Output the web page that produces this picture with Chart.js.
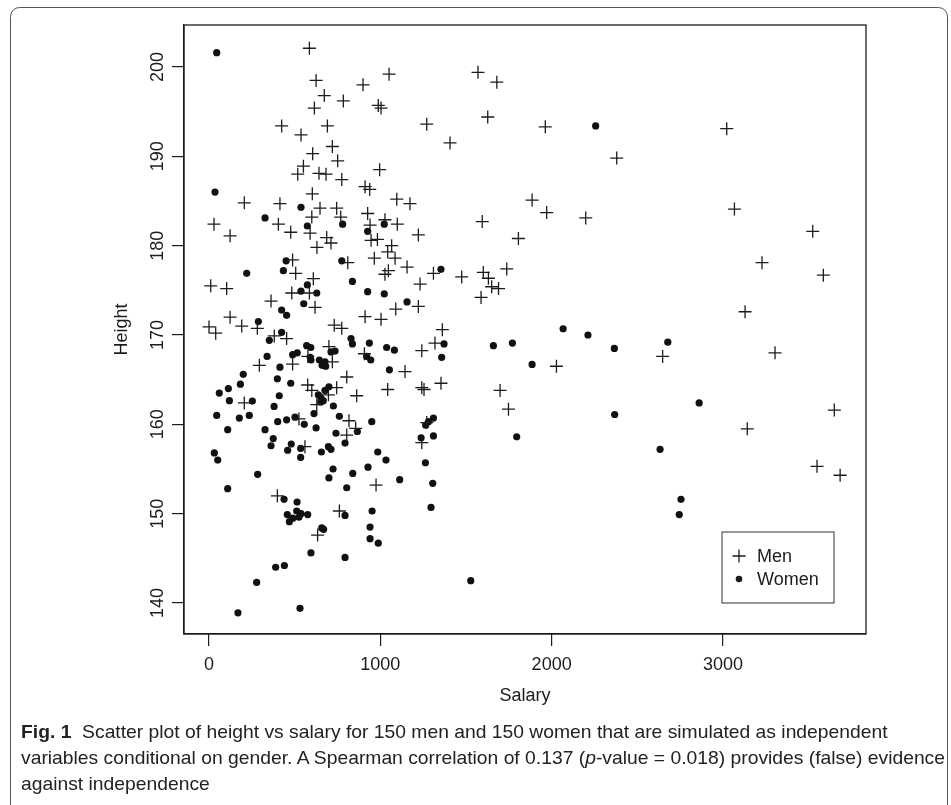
<!DOCTYPE html>
<html>
<head>
<meta charset="utf-8">
<script src="https://cdn.jsdelivr.net/npm/chart.js@4.4.1/dist/chart.umd.min.js"></script>
<style>
  html, body { margin: 0; padding: 0; background: #fff; }
  #wrap { position: relative; width: 951px; height: 805px; overflow: hidden; }
  #chart { position: absolute; left: 0; top: 0; }
  #caption {
    position: absolute; left: 21px; top: 719px;
    font-family: "Liberation Sans", Arial, sans-serif; font-size: 19px;
    line-height: 26px; color: #222; white-space: nowrap;
    transform-origin: left top;
  }
  #caption span { display: inline-block; }
</style>
</head>
<body>
<div id="wrap">
  <canvas id="chart" width="951" height="805"></canvas>
  <div id="caption">
    <div><span id="line1"><b>Fig. 1</b>&nbsp; Scatter plot of height vs salary for 150 men and 150 women that are simulated as independent</span></div>
    <div><span id="line2">variables conditional on gender. A Spearman correlation of 0.137 (<i>p</i>-value = 0.018) provides (false) evidence</span></div>
    <div><span id="line3">against independence</span></div>
  </div>
</div>
<script>
const xTicks = [0, 1000, 2000, 3000];
const yTicks = [140, 150, 160, 170, 180, 190, 200];

const menSalary = [586, 625, 673, 784, 615, 424, 691, 537, 720, 605, 751, 551, 518, 642, 683, 775, 603, 206, 414, 648, 745,
  1051, 899, 1570, 1680, 988, 1004, 1627, 1271, 1407, 996, 911, 938, 1096, 1173,
  1963, 3022, 2380, 1886, 1971, 2199, 3067, 1806, 3524, 3228, 3586, 1738, 1650, 1690,
  3129, 3304, 3650, 3142, 3549, 3684, 2648, 2028, 1699, 1748,
  1271, 1242, 975, 817, 856, 804, 525, 560, 399, 761, 634,
  29, 123, 405, 477, 600, 590, 769, 687, 712, 630, 488, 506, 609, 10, 103, 483, 586, 619, 362, 123, 191, 282, 0, 39,
  381, 453, 731, 775, 294, 488, 577, 700, 720, 576, 600, 745, 697, 206, 629,
  926, 1027, 940, 1099, 946, 983, 1222, 1595, 1066, 1043, 1086, 965, 810, 1156, 1047, 1027, 1310, 1475, 1601, 1631,
  1588, 1232, 1222, 1090, 911, 1004, 1362, 1319, 907, 1242, 1144, 804, 862, 1043, 1242, 1255, 1354];
const menHeight = [202.1, 198.5, 196.8, 196.2, 195.4, 193.4, 193.4, 192.4, 191.1, 190.3, 189.5, 188.9, 188.0, 188.1, 188.0, 187.4, 185.8, 184.8, 184.7, 184.2, 184.2,
  199.2, 198.0, 199.4, 198.3, 195.7, 195.4, 194.4, 193.6, 191.5, 188.5, 186.6, 186.3, 185.2, 184.7,
  193.3, 193.1, 189.8, 185.1, 183.7, 183.1, 184.1, 180.8, 181.6, 178.1, 176.7, 177.4, 175.4, 175.2,
  172.6, 168.0, 161.6, 159.5, 155.3, 154.3, 167.6, 166.5, 163.8, 161.7,
  160.2, 157.95, 153.2, 160.4, 159.55, 158.8, 160.6, 157.5, 152.0, 150.3, 147.6,
  182.4, 181.1, 182.4, 181.5, 183.2, 181.4, 183.2, 180.9, 180.3, 179.8, 178.4, 176.9, 176.3, 175.5, 175.2, 174.7, 174.7, 173.1, 173.8, 172.0, 171.0, 170.75, 170.9, 170.2,
  169.9, 169.6, 171.1, 170.75, 166.6, 166.75, 167.6, 168.7, 167.0, 164.4, 163.8, 164.1, 163.3, 162.4, 162.2,
  183.6, 182.9, 182.3, 182.4, 180.6, 180.7, 181.2, 182.7, 180.0, 179.3, 178.6, 178.6, 178.1, 177.6, 177.2, 176.8, 176.9, 176.5, 177.0, 176.35,
  174.2, 175.7, 173.2, 172.9, 172.05, 171.75, 170.6, 169.1, 167.9, 168.25, 165.9, 165.3, 163.2, 163.9, 164.1, 163.9, 164.6];

const womenSalary = [45, 35, 537, 2257, 1660, 1771, 2067, 2212, 2366, 2678, 1886, 2368, 2861, 1796, 2633, 2755, 2745, 1528,
  950, 866, 1310, 1281, 1265, 1238, 1310, 985, 1033, 1263, 928, 839, 1113, 1306, 804, 952, 1296, 794, 940, 940, 988, 794,
  45, 177, 235, 109, 327, 401, 453, 502, 556, 613, 625, 761, 741, 794, 375, 362, 480, 459, 535, 535, 656, 697, 712, 31, 51,
  724, 700, 284, 109, 438, 514, 457, 512, 537, 576, 525, 489, 469, 658, 669, 595, 389, 440, 278, 169, 531,
  327, 574, 780, 450, 775, 434, 220, 574, 537, 629, 553, 424, 453, 288, 424, 352, 339, 414, 488, 515, 570, 594, 591, 595,
  712, 736, 644, 677, 660, 681, 200, 399, 477, 183, 113, 60, 677, 700, 638, 654, 667, 652, 119, 253, 410, 380, 726,
  1023, 926, 1354, 837, 926, 1023, 1156, 1372, 829, 837, 936, 920, 944, 1037, 1082, 1358, 1053];
const womenHeight = [201.6, 186.0, 184.3, 193.4, 168.8, 169.1, 170.7, 170.0, 168.5, 169.2, 166.7, 161.1, 162.4, 158.6, 157.2, 151.6, 149.9, 142.5,
  160.3, 159.2, 160.7, 160.3, 159.9, 158.5, 158.7, 156.9, 156.0, 155.7, 155.2, 154.5, 153.8, 153.4, 152.9, 150.3, 150.7, 149.8, 148.5, 147.2, 146.7, 145.1,
  161.0, 160.7, 161.0, 159.4, 159.4, 160.3, 160.5, 160.8, 160.0, 161.2, 159.6, 160.9, 159.0, 157.9, 158.4, 157.6, 157.8, 157.1, 157.3, 156.3, 156.9, 157.5, 157.2, 156.8, 156.0,
  155.0, 154.0, 154.4, 152.8, 151.6, 151.3, 149.9, 150.3, 150.0, 149.9, 149.6, 149.5, 149.1, 148.4, 148.25, 145.6, 144.0, 144.2, 142.3, 138.9, 139.4,
  183.1, 182.2, 182.4, 178.3, 178.3, 177.2, 176.9, 175.6, 174.9, 174.7, 173.5, 172.8, 172.2, 171.5, 170.3, 169.4, 167.6, 166.4, 167.8, 168.0, 168.8, 168.6, 167.5, 167.2,
  168.1, 168.2, 167.2, 167.0, 166.6, 166.5, 165.6, 165.1, 164.6, 164.5, 164.0, 163.5, 163.8, 164.2, 163.3, 162.9, 162.65, 162.5, 162.65, 162.6, 163.2, 162.0, 162.05,
  182.4, 181.6, 177.35, 176.0, 174.85, 174.6, 173.7, 169.0, 169.6, 169.0, 169.1, 167.6, 167.2, 168.6, 168.3, 167.5, 166.1];

const toPoints = (xs, ys) => xs.map((x, i) => ({x: x, y: ys[i]}));
const ink = "#1c1c1c";
const tickFont = {family: "'Liberation Sans', Arial, sans-serif", size: 18};

// R style box, rotated y labels, legend and the figure frame
const rStyle = {
  id: "rStyle",
  afterDraw(chart) {
    const {ctx, chartArea: a, scales: {y}} = chart;
    ctx.save();
    ctx.strokeStyle = ink;
    ctx.lineWidth = 1.3;
    ctx.strokeRect(a.left, a.top, a.right - a.left, a.bottom - a.top);

    ctx.fillStyle = ink;
    ctx.font = "18px 'Liberation Sans', Arial, sans-serif";
    ctx.textAlign = "center";
    ctx.textBaseline = "middle";
    yTicks.forEach(v => {
      ctx.save();
      ctx.translate(a.left - 26, y.getPixelForValue(v));
      ctx.rotate(-Math.PI / 2);
      ctx.fillText(String(v), 0, 0);
      ctx.restore();
    });

    // legend
    const lx = a.right - 144, ly = a.bottom - 102;
    ctx.lineWidth = 1;
    ctx.strokeStyle = "#333";
    ctx.strokeRect(lx, ly, 112, 71);
    ctx.textAlign = "left";
    chart.data.datasets.forEach((ds, i) => {
      const cy = ly + 24 + i * 23, cx = lx + 17;
      if (ds.pointStyle === "cross") {
        ctx.strokeStyle = ink;
        ctx.lineWidth = 1.3;
        ctx.beginPath();
        ctx.moveTo(cx - 6.5, cy); ctx.lineTo(cx + 6.5, cy);
        ctx.moveTo(cx, cy - 6.5); ctx.lineTo(cx, cy + 6.5);
        ctx.stroke();
      } else {
        ctx.beginPath();
        ctx.arc(cx, cy, 3.3, 0, Math.PI * 2);
        ctx.fill();
      }
      ctx.fillText(ds.label, lx + 35, cy + 1);
    });

    // rounded figure frame
    ctx.strokeStyle = "#555";
    ctx.lineWidth = 1;
    ctx.beginPath();
    ctx.roundRect(10.5, 7.5, 937, 830, 9);
    ctx.stroke();
    ctx.restore();
  }
};

new Chart(document.getElementById("chart"), {
  type: "scatter",
  data: {
    datasets: [{
      label: "Men",
      data: toPoints(menSalary, menHeight),
      pointStyle: "cross",
      pointRadius: 6.5,
      borderColor: ink,
      borderWidth: 1.3
    }, {
      label: "Women",
      data: toPoints(womenSalary, womenHeight),
      pointStyle: "circle",
      pointRadius: 3.6,
      backgroundColor: "#111",
      borderColor: "#111",
      borderWidth: 0
    }]
  },
  options: {
    responsive: false,
    animation: false,
    events: [],
    layout: {padding: {left: 105, top: 25, right: 85, bottom: 94}},
    plugins: {legend: {display: false}, tooltip: {enabled: false}},
    scales: {
      x: {
        type: "linear",
        min: -146,
        max: 3835,
        afterBuildTicks: s => { s.ticks = xTicks.map(v => ({value: v})); },
        afterFit: s => { s.height = 77; },
        grid: {drawOnChartArea: false, drawTicks: true, tickLength: 12, tickColor: ink, lineWidth: 1.2},
        border: {display: true, color: ink, width: 1.3},
        ticks: {color: ink, font: tickFont, padding: 8, maxRotation: 0, callback: v => String(v)},
        title: {display: true, text: "Salary", color: ink, font: tickFont, padding: {top: 0, bottom: 4}}
      },
      y: {
        type: "linear",
        min: 136.53,
        max: 204.7,
        afterBuildTicks: s => { s.ticks = yTicks.map(v => ({value: v})); },
        afterFit: s => { s.width = 79; },
        grid: {drawOnChartArea: false, drawTicks: true, tickLength: 12, tickColor: ink, lineWidth: 1.2},
        border: {display: true, color: ink, width: 1.3},
        ticks: {display: false},
        title: {display: true, text: "Height", color: ink, font: tickFont, padding: {top: 6, bottom: 0}}
      }
    }
  },
  plugins: [rStyle]
});

// squeeze the caption to the width of the original
const line2 = document.getElementById("line2");
const w = line2.getBoundingClientRect().width;
document.getElementById("caption").style.transform = "scaleX(" + (924 / w) + ")";
</script>
</body>
</html>
